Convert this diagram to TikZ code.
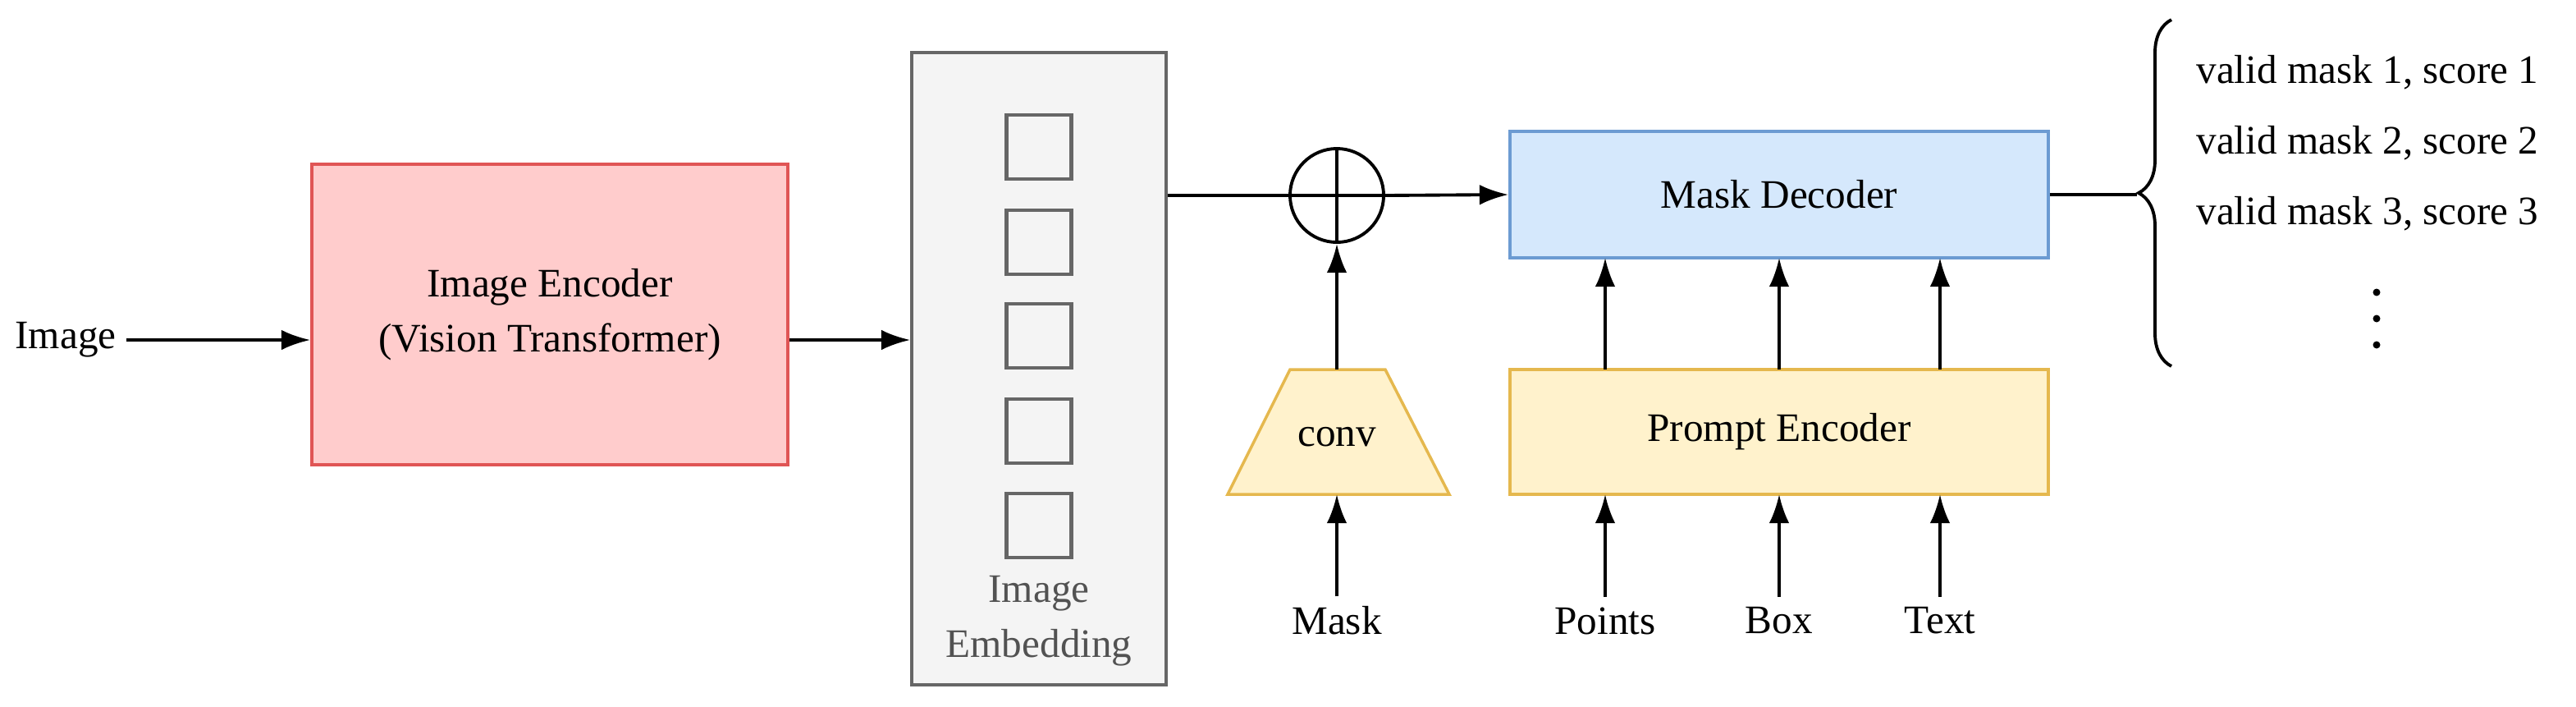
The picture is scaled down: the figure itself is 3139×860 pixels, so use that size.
\documentclass[tikz,border=0pt]{standalone}
\usepackage{fontspec}
\setmainfont{Liberation Serif}
\usetikzlibrary{arrows.meta,decorations.pathreplacing}
\definecolor{rf}{HTML}{FFCCCC}\definecolor{rd}{HTML}{E05555}
\definecolor{bf}{HTML}{D5E8FC}\definecolor{bd}{HTML}{6C9BD2}
\definecolor{yf}{HTML}{FFF2CC}\definecolor{yd}{HTML}{E5B84E}
\definecolor{gf}{HTML}{F4F4F4}\definecolor{gd}{HTML}{666666}
\begin{document}
\begin{tikzpicture}[x=0.01cm,y=-0.01cm,
  every node/.style={font=\rmfamily\fontsize{14}{19}\selectfont},
  arr/.style={line width=1.1pt,-{Latex[length=10pt,width=7pt]}},
  ln/.style={line width=1.1pt},
  sq/.style={draw=gd,line width=1.2pt,minimum width=0.79cm,minimum height=0.78cm,inner sep=0pt}]
\useasboundingbox (0,0) rectangle (3139,860);
\node (img) at (80,414) {Image};
\node[draw=rd,fill=rf,line width=1pt,minimum width=5.8cm,minimum height=3.66cm,align=center] (enc) at (670,383) {Image Encoder\\(Vision Transformer)};
\node[draw=gd,fill=gf,line width=1pt,minimum width=3.1cm,minimum height=7.7cm] (emb) at (1266,449) {};
\foreach \i/\y in {1/179,2/295,3/409,4/525,5/640} \node[sq] (s\i) at (1266,\y) {};
\node[text=gd!80!black,align=center] (embl) at (1266,756) {Image\\Embedding};
\node[circle,draw,line width=1.1pt,minimum size=1.14cm,inner sep=0pt] (plus) at (1629,238) {};
\draw[ln] (plus.north)--(plus.south) (plus.west)--(plus.east);
\node[draw=bd,fill=bf,line width=1pt,minimum width=6.56cm,minimum height=1.54cm] (dec) at (2168,237) {Mask Decoder};
\node[draw=yd,fill=yf,line width=1pt,minimum width=6.56cm,minimum height=1.52cm] (pe) at (2168,526) {Prompt Encoder};
\draw[draw=yd,fill=yf,line width=1pt] (1496,602) -- (1572,450) -- (1688,450) -- (1766,602) -- cycle;
\node (conv) at (1629,532) {conv};
\coordinate (convtop) at (1629,450);
\coordinate (convbot) at (1629,602);
\node (mask) at (1629,756) {Mask};
\node (pts) at (1956,756) {Points};
\node (box) at (2168,756) {Box};
\node (txt) at (2364,756) {Text};
\draw[arr] (img) -- (img -| enc.west);
\draw[arr] (enc.east |- img) -- (emb.west |- img);
\draw[ln] (emb.east |- plus) -- (plus.west);
\draw[arr] (plus.east) -- (dec.west);
\draw[arr] (convtop) -- (plus.south);
\draw[arr] (mask) -- (convbot);
\foreach \n/\x in {pts/1956,box/2168,txt/2364}{
  \draw[arr] (\n) -- (\x,602);
  \draw[arr] (\x,450) -- (\x,314);}
\coordinate (bt) at (2646,24); \coordinate (bb) at (2646,446);
\coordinate (btip) at (2604,237);
\draw[ln] (dec.east) -- (btip);
\draw[ln,decorate,decoration={brace,amplitude=0.4cm}] (bb) -- (bt);
\node[anchor=west] (o1) at (2664,88) {valid mask 1, score 1};
\node[anchor=west] (o2) at (2664,174) {valid mask 2, score 2};
\node[anchor=west] (o3) at (2664,260) {valid mask 3, score 3};
\foreach \y in {356,388,420} \fill (2896,\y) circle (0.045cm);
\end{tikzpicture}
\end{document}
